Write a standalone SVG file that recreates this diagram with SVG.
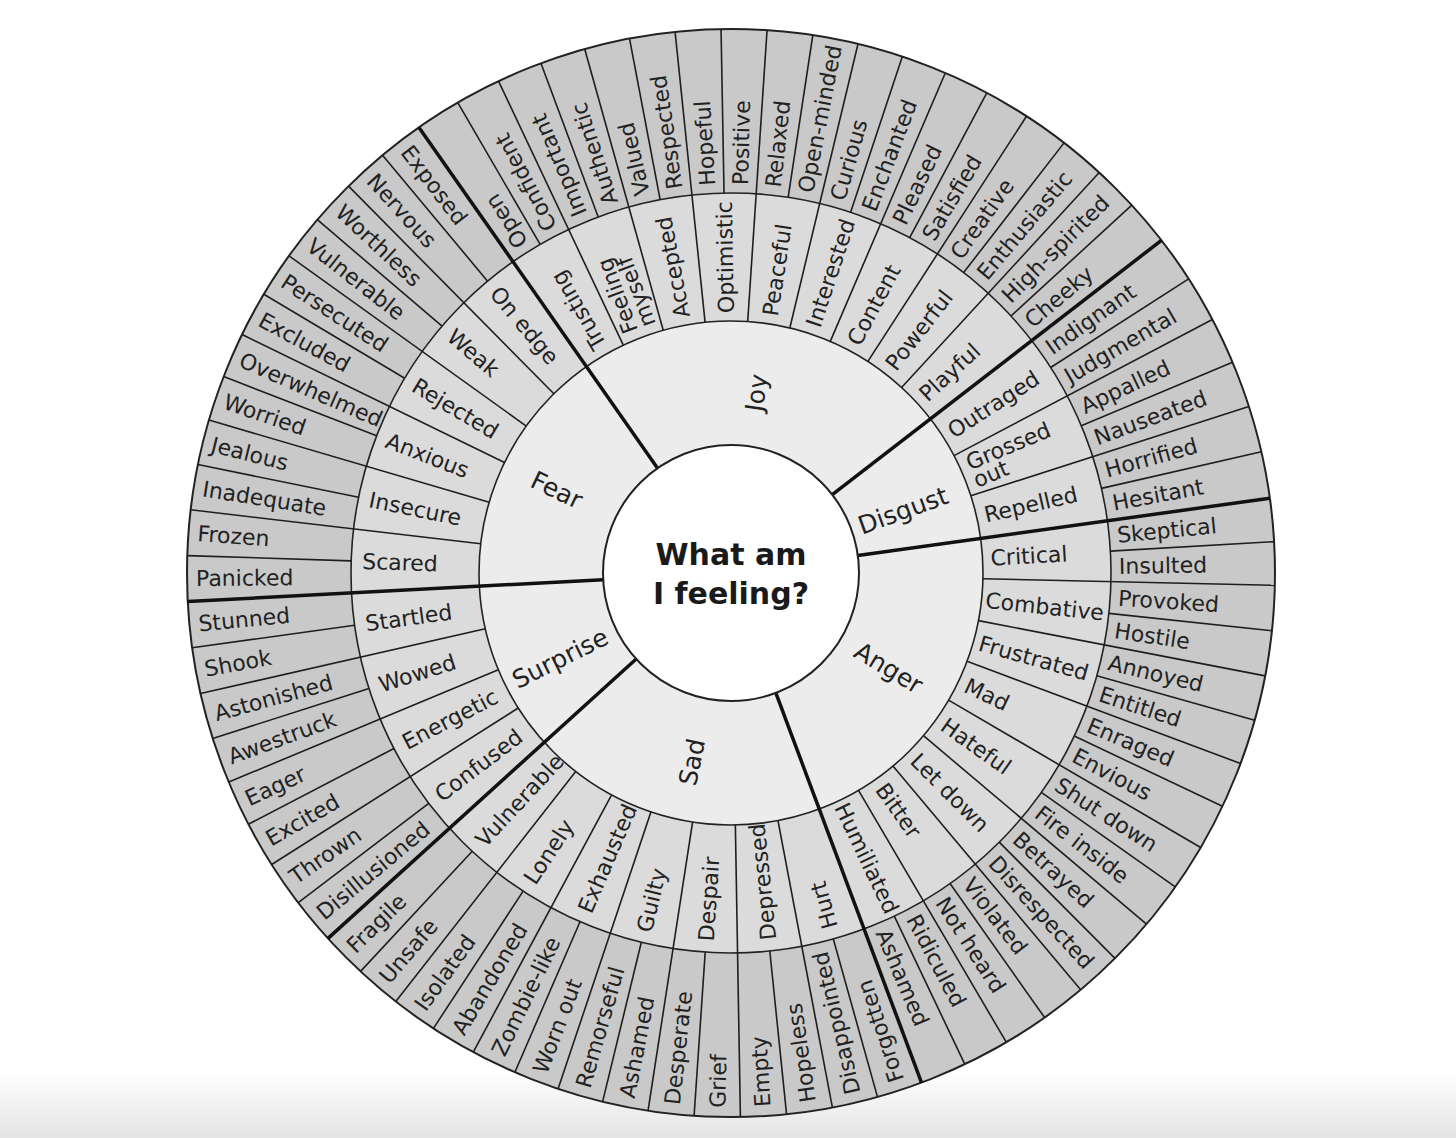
<svg xmlns="http://www.w3.org/2000/svg" xmlns:xlink="http://www.w3.org/1999/xlink" width="1456" height="1138" viewBox="0 0 1456 1138">
<defs>
<style>
.t{font-family:"DejaVu Sans","Liberation Sans",sans-serif;font-size:22px;fill:#222}
.c{font-size:25px}
.m{font-family:"DejaVu Sans","Liberation Sans",sans-serif;font-size:30px;font-weight:bold;fill:#1a1a1a;text-anchor:middle}
.ln{stroke:#1e1e1e;stroke-width:1.6}
.th{stroke:#111;stroke-width:3.5}
</style>
<linearGradient id="bg" x1="0" y1="0" x2="0" y2="1"><stop offset="0" stop-color="#ffffff"/><stop offset="1" stop-color="#e4e4e4"/></linearGradient>
<line id="a" x1="380" y1="0" x2="544" y2="0"/>
<line id="b" x1="252" y1="0" x2="544" y2="0"/>
<line id="c" x1="128" y1="0" x2="544" y2="0"/>
</defs>
<rect width="1456" height="1138" fill="#fff"/>
<rect y="1070" width="1456" height="68" fill="url(#bg)"/>
<g transform="translate(731,573)">
<circle r="544" fill="#c9c9c9" stroke="#222" stroke-width="2"/>
<circle r="380" fill="#dbdbdb" stroke="#222" stroke-width="1.6"/>
<circle r="252" fill="#ececec" stroke="#222" stroke-width="1.6"/>
<g id="connectors">
<g class="th">
<use xlink:href="#c" transform="rotate(-7.9)"/><use xlink:href="#c" transform="rotate(69.5)"/><use xlink:href="#c" transform="rotate(137.8)"/><use xlink:href="#c" transform="rotate(177)"/><use xlink:href="#c" transform="rotate(235)"/><use xlink:href="#c" transform="rotate(322.3)"/>
</g>
<g class="ln">
<use xlink:href="#b" transform="rotate(1.3)"/><use xlink:href="#b" transform="rotate(10.9)"/><use xlink:href="#b" transform="rotate(20.5)"/><use xlink:href="#b" transform="rotate(30.3)"/><use xlink:href="#b" transform="rotate(40.2)"/><use xlink:href="#b" transform="rotate(50)"/><use xlink:href="#b" transform="rotate(59.6)"/>
<use xlink:href="#b" transform="rotate(79.26)"/><use xlink:href="#b" transform="rotate(89.01)"/><use xlink:href="#b" transform="rotate(98.77)"/><use xlink:href="#b" transform="rotate(108.53)"/><use xlink:href="#b" transform="rotate(118.28)"/><use xlink:href="#b" transform="rotate(128.04)"/>
<use xlink:href="#b" transform="rotate(147.6)"/><use xlink:href="#b" transform="rotate(157.4)"/><use xlink:href="#b" transform="rotate(167.2)"/>
<use xlink:href="#b" transform="rotate(186.67)"/><use xlink:href="#b" transform="rotate(196.33)"/><use xlink:href="#b" transform="rotate(206)"/><use xlink:href="#b" transform="rotate(215.67)"/><use xlink:href="#b" transform="rotate(225.33)"/>
<use xlink:href="#b" transform="rotate(244.7)"/><use xlink:href="#b" transform="rotate(254.4)"/><use xlink:href="#b" transform="rotate(264.1)"/><use xlink:href="#b" transform="rotate(273.8)"/><use xlink:href="#b" transform="rotate(283.5)"/><use xlink:href="#b" transform="rotate(293.2)"/><use xlink:href="#b" transform="rotate(302.9)"/><use xlink:href="#b" transform="rotate(312.6)"/>
<use xlink:href="#b" transform="rotate(332.23)"/><use xlink:href="#b" transform="rotate(342.17)"/>
<use xlink:href="#a" transform="rotate(-3.3)"/><use xlink:href="#a" transform="rotate(6.1)"/><use xlink:href="#a" transform="rotate(15.7)"/><use xlink:href="#a" transform="rotate(25.4)"/><use xlink:href="#a" transform="rotate(35.25)"/><use xlink:href="#a" transform="rotate(45.1)"/><use xlink:href="#a" transform="rotate(54.8)"/><use xlink:href="#a" transform="rotate(64.55)"/>
<use xlink:href="#a" transform="rotate(74.38)"/><use xlink:href="#a" transform="rotate(84.14)"/><use xlink:href="#a" transform="rotate(93.89)"/><use xlink:href="#a" transform="rotate(103.65)"/><use xlink:href="#a" transform="rotate(113.41)"/><use xlink:href="#a" transform="rotate(123.16)"/><use xlink:href="#a" transform="rotate(132.92)"/>
<use xlink:href="#a" transform="rotate(142.7)"/><use xlink:href="#a" transform="rotate(152.5)"/><use xlink:href="#a" transform="rotate(162.3)"/><use xlink:href="#a" transform="rotate(172.1)"/>
<use xlink:href="#a" transform="rotate(181.83)"/><use xlink:href="#a" transform="rotate(191.5)"/><use xlink:href="#a" transform="rotate(201.17)"/><use xlink:href="#a" transform="rotate(210.83)"/><use xlink:href="#a" transform="rotate(220.5)"/><use xlink:href="#a" transform="rotate(230.17)"/>
<use xlink:href="#a" transform="rotate(239.85)"/><use xlink:href="#a" transform="rotate(249.55)"/><use xlink:href="#a" transform="rotate(259.25)"/><use xlink:href="#a" transform="rotate(268.95)"/><use xlink:href="#a" transform="rotate(278.65)"/><use xlink:href="#a" transform="rotate(288.35)"/><use xlink:href="#a" transform="rotate(298.05)"/><use xlink:href="#a" transform="rotate(307.75)"/><use xlink:href="#a" transform="rotate(317.45)"/>
<use xlink:href="#a" transform="rotate(327.27)"/><use xlink:href="#a" transform="rotate(337.2)"/><use xlink:href="#a" transform="rotate(347.13)"/>
</g>
</g>
<circle r="128" fill="#fff" stroke="#222" stroke-width="2"/>
<g id="center"><text class="m" x="0" y="-8">What am</text><text class="m" x="0" y="31">I feeling?</text></g>

<g id="anger" class="t">
<text class="c" transform="rotate(31)" x="184" dy=".35em" text-anchor="middle">Anger</text>
<text transform="rotate(-3.3)" x="260" dy=".35em">Critical</text>
<text transform="rotate(6.1)" x="256" dy=".35em">Combative</text>
<text transform="rotate(15.7)" x="258" dy=".35em">Frustrated</text>
<text transform="rotate(25.4)" x="260" dy=".35em">Mad</text>
<text transform="rotate(35.25)" x="260" dy=".35em">Hateful</text>
<text transform="rotate(45.1)" x="260" dy=".35em">Let down</text>
<text transform="rotate(54.8)" x="260" dy=".35em">Bitter</text>
<text transform="rotate(64.55)" x="256" dy=".35em">Humiliated</text>
<text transform="rotate(-5.6)" x="388" dy=".35em">Skeptical</text>
<text transform="rotate(-1)" x="388" dy=".35em">Insulted</text>
<text transform="rotate(3.7)" x="388" dy=".35em">Provoked</text>
<text transform="rotate(8.5)" x="388" dy=".35em">Hostile</text>
<text transform="rotate(13.3)" x="388" dy=".35em">Annoyed</text>
<text transform="rotate(18.1)" x="388" dy=".35em">Entitled</text>
<text transform="rotate(22.95)" x="388" dy=".35em">Enraged</text>
<text transform="rotate(27.85)" x="388" dy=".35em">Envious</text>
<text transform="rotate(32.78)" x="388" dy=".35em">Shut down</text>
<text transform="rotate(37.73)" x="388" dy=".35em">Fire inside</text>
<text transform="rotate(42.65)" x="388" dy=".35em">Betrayed</text>
<text transform="rotate(47.55)" x="388" dy=".35em">Disrespected</text>
<text transform="rotate(52.4)" x="388" dy=".35em">Violated</text>
<text transform="rotate(57.2)" x="388" dy=".35em">Not heard</text>
<text transform="rotate(62.08)" x="388" dy=".35em">Ridiculed</text>
<text transform="rotate(67.03)" x="388" dy=".35em">Ashamed</text>
</g>

<g id="sad" class="t">
<text class="c" transform="rotate(281.7)" x="-193" dy=".35em" text-anchor="middle">Sad</text>
<text transform="rotate(254.38)" x="-369" dy=".35em">Hurt</text>
<text transform="rotate(264.14)" x="-369" dy=".35em">Depressed</text>
<text transform="rotate(273.89)" x="-369" dy=".35em">Despair</text>
<text transform="rotate(283.65)" x="-369" dy=".35em">Guilty</text>
<text transform="rotate(293.41)" x="-369" dy=".35em">Exhausted</text>
<text transform="rotate(303.16)" x="-369" dy=".35em">Lonely</text>
<text transform="rotate(312.92)" x="-369" dy=".35em">Vulnerable</text>
<text transform="rotate(251.94)" x="-535" dy=".35em">Forgotten</text>
<text transform="rotate(256.82)" x="-535" dy=".35em">Disappointed</text>
<text transform="rotate(261.7)" x="-535" dy=".35em">Hopeless</text>
<text transform="rotate(266.58)" x="-535" dy=".35em">Empty</text>
<text transform="rotate(271.45)" x="-535" dy=".35em">Grief</text>
<text transform="rotate(276.33)" x="-535" dy=".35em">Desperate</text>
<text transform="rotate(281.21)" x="-535" dy=".35em">Ashamed</text>
<text transform="rotate(286.09)" x="-535" dy=".35em">Remorseful</text>
<text transform="rotate(290.97)" x="-535" dy=".35em">Worn out</text>
<text transform="rotate(295.85)" x="-535" dy=".35em">Zombie-like</text>
<text transform="rotate(300.72)" x="-535" dy=".35em">Abandoned</text>
<text transform="rotate(305.6)" x="-535" dy=".35em">Isolated</text>
<text transform="rotate(310.48)" x="-535" dy=".35em">Unsafe</text>
<text transform="rotate(315.36)" x="-535" dy=".35em">Fragile</text>
</g>

<g id="surprise" class="t">
<text class="c" transform="rotate(333.5)" x="-191" dy=".35em" text-anchor="middle">Surprise</text>
<text transform="rotate(322.7)" x="-369" dy=".35em">Confused</text>
<text transform="rotate(332.5)" x="-369" dy=".35em">Energetic</text>
<text transform="rotate(342.3)" x="-369" dy=".35em">Wowed</text>
<text transform="rotate(352.1)" x="-369" dy=".35em">Startled</text>
<text transform="rotate(320.25)" x="-535" dy=".35em">Disillusioned</text>
<text transform="rotate(325.15)" x="-535" dy=".35em">Thrown</text>
<text transform="rotate(330.05)" x="-535" dy=".35em">Excited</text>
<text transform="rotate(334.95)" x="-535" dy=".35em">Eager</text>
<text transform="rotate(339.85)" x="-535" dy=".35em">Awestruck</text>
<text transform="rotate(344.75)" x="-535" dy=".35em">Astonished</text>
<text transform="rotate(349.65)" x="-535" dy=".35em">Shook</text>
<text transform="rotate(354.55)" x="-535" dy=".35em">Stunned</text>
</g>

<g id="fear" class="t">
<text class="c" transform="rotate(25.5)" x="-193" dy=".35em" text-anchor="middle">Fear</text>
<text transform="rotate(1.83)" x="-369" dy=".35em">Scared</text>
<text transform="rotate(11.5)" x="-369" dy=".35em">Insecure</text>
<text transform="rotate(21.17)" x="-369" dy=".35em">Anxious</text>
<text transform="rotate(30.83)" x="-369" dy=".35em">Rejected</text>
<text transform="rotate(40.5)" x="-369" dy=".35em">Weak</text>
<text transform="rotate(50.17)" x="-369" dy=".35em">On edge</text>
<text transform="rotate(-0.58)" x="-535" dy=".35em">Panicked</text>
<text transform="rotate(4.25)" x="-535" dy=".35em">Frozen</text>
<text transform="rotate(9.08)" x="-535" dy=".35em">Inadequate</text>
<text transform="rotate(13.92)" x="-535" dy=".35em">Jealous</text>
<text transform="rotate(18.75)" x="-535" dy=".35em">Worried</text>
<text transform="rotate(23.58)" x="-535" dy=".35em">Overwhelmed</text>
<text transform="rotate(28.42)" x="-535" dy=".35em">Excluded</text>
<text transform="rotate(33.25)" x="-535" dy=".35em">Persecuted</text>
<text transform="rotate(38.08)" x="-535" dy=".35em">Vulnerable</text>
<text transform="rotate(42.92)" x="-535" dy=".35em">Worthless</text>
<text transform="rotate(47.75)" x="-535" dy=".35em">Nervous</text>
<text transform="rotate(52.58)" x="-535" dy=".35em">Exposed</text>
</g>

<g id="joy" class="t">
<text class="c" transform="rotate(-82)" x="182" dy=".35em" text-anchor="middle">Joy</text>
<text transform="rotate(-120.15)" x="260" dy=".35em">Trusting</text>
<text transform="rotate(-110.45)"><tspan x="260" y="-2">Feeling</tspan><tspan x="260" y="17">myself</tspan></text>
<text transform="rotate(-100.75)" x="260" dy=".35em">Accepted</text>
<text transform="rotate(-91.05)" x="260" dy=".35em">Optimistic</text>
<text transform="rotate(-81.35)" x="260" dy=".35em">Peaceful</text>
<text transform="rotate(-71.65)" x="260" dy=".35em">Interested</text>
<text transform="rotate(-61.95)" x="260" dy=".35em">Content</text>
<text transform="rotate(-52.25)" x="260" dy=".35em">Powerful</text>
<text transform="rotate(-42.55)" x="260" dy=".35em">Playful</text>
<text transform="rotate(-122.575)" x="388" dy=".35em">Open</text>
<text transform="rotate(-117.725)" x="388" dy=".35em">Confident</text>
<text transform="rotate(-112.875)" x="388" dy=".35em">Important</text>
<text transform="rotate(-108.025)" x="388" dy=".35em">Authentic</text>
<text transform="rotate(-103.175)" x="388" dy=".35em">Valued</text>
<text transform="rotate(-98.325)" x="388" dy=".35em">Respected</text>
<text transform="rotate(-93.475)" x="388" dy=".35em">Hopeful</text>
<text transform="rotate(-88.625)" x="388" dy=".35em">Positive</text>
<text transform="rotate(-83.775)" x="388" dy=".35em">Relaxed</text>
<text transform="rotate(-78.925)" x="388" dy=".35em">Open-minded</text>
<text transform="rotate(-74.075)" x="388" dy=".35em">Curious</text>
<text transform="rotate(-69.225)" x="388" dy=".35em">Enchanted</text>
<text transform="rotate(-64.375)" x="388" dy=".35em">Pleased</text>
<text transform="rotate(-59.525)" x="388" dy=".35em">Satisfied</text>
<text transform="rotate(-54.675)" x="388" dy=".35em">Creative</text>
<text transform="rotate(-49.825)" x="388" dy=".35em">Enthusiastic</text>
<text transform="rotate(-44.975)" x="388" dy=".35em">High-spirited</text>
<text transform="rotate(-40.125)" x="388" dy=".35em">Cheeky</text>
</g>

<g id="disgust" class="t">
<text class="c" transform="rotate(-20)" x="183" dy=".35em" text-anchor="middle">Disgust</text>
<text transform="rotate(-32.73)" x="260" dy=".35em">Outraged</text>
<text transform="rotate(-22.8)"><tspan x="260" y="-2">Grossed</tspan><tspan x="260" y="17">out</tspan></text>
<text transform="rotate(-12.87)" x="260" dy=".35em">Repelled</text>
<text transform="rotate(-35.22)" x="388" dy=".35em">Indignant</text>
<text transform="rotate(-30.25)" x="388" dy=".35em">Judgmental</text>
<text transform="rotate(-25.28)" x="388" dy=".35em">Appalled</text>
<text transform="rotate(-20.32)" x="388" dy=".35em">Nauseated</text>
<text transform="rotate(-15.35)" x="388" dy=".35em">Horrified</text>
<text transform="rotate(-10.38)" x="388" dy=".35em">Hesitant</text>
</g>
</g>
</svg>
